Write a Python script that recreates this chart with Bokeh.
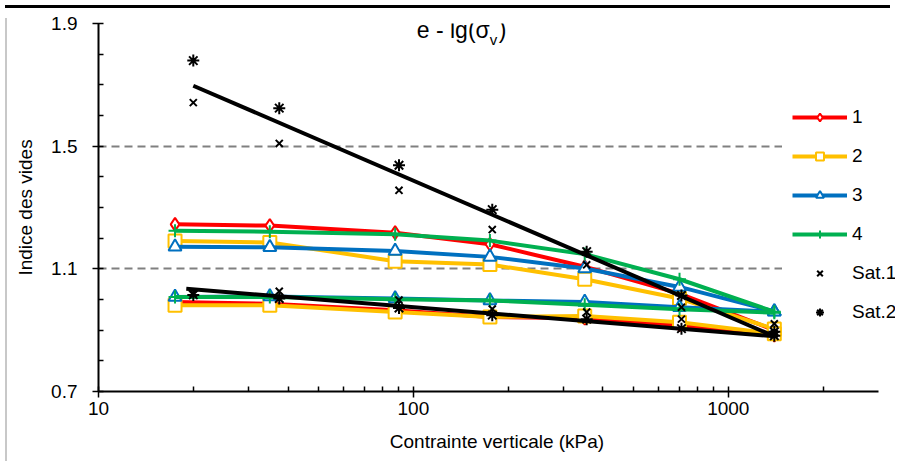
from bokeh.plotting import figure
from bokeh.models import Range1d, FixedTicker, PrintfTickFormatter, Legend, LegendItem, Label, Div
from bokeh.layouts import column, row
from bokeh.embed import file_html
from bokeh.resources import INLINE

# ---------------- data ----------------
sigma = [17.5, 35, 87.5, 175, 350, 700, 1400]
s1_upper = [1.245, 1.241, 1.218, 1.180, 1.107, 1.019, 0.900]
s2_upper = [1.191, 1.186, 1.125, 1.114, 1.066, 1.003, 0.904]
s3_upper = [1.172, 1.170, 1.158, 1.139, 1.101, 1.041, 0.961]
s4_upper = [1.224, 1.221, 1.213, 1.192, 1.148, 1.066, 0.960]
s1_lower = [0.992, 0.986, 0.965, 0.943, 0.939, 0.917, 0.884]
s2_lower = [0.981, 0.981, 0.959, 0.943, 0.946, 0.926, 0.888]
s3_lower = [1.008, 1.010, 1.003, 0.997, 0.992, 0.975, 0.960]
s4_lower = [1.008, 1.008, 1.001, 0.997, 0.983, 0.968, 0.957]

sigma_sat = [20, 37.5, 90, 178, 355, 710, 1400]
sat1_upper = [1.642, 1.509, 1.356, 1.228, 1.113, 0.975, 0.921]
sat2_upper = [1.779, 1.624, 1.438, 1.293, 1.156, 1.013, 0.895]
sat1_lower = [1.020, 1.027, 0.998, 0.969, 0.959, 0.936, 0.888]
sat2_lower = [1.015, 1.003, 0.972, 0.949, 0.936, 0.905, 0.882]

trend_up_x = [20, 1400]
trend_up_y = [1.697, 0.880]
trend_low_x = [19, 1400]
trend_low_y = [1.035, 0.880]

series_names = ["1", "2", "3", "4"]
series_colors = ["#FF0000", "#FFC000", "#0070C0", "#00B050"]
series_markers = ["diamond", "square", "triangle", "cross"]

x_ticks = [10, 100, 1000]
x_minor = [20, 30, 40, 50, 60, 70, 80, 90, 200, 300, 400, 500, 600, 700, 800, 900, 2000]
x_axis_end = 3000
y_ticks = [0.7, 1.1, 1.5, 1.9]
y_minor = [0.8, 0.9, 1.0, 1.2, 1.3, 1.4, 1.6, 1.7, 1.8]

FONT = "Liberation Sans"

# ---------------- figure ----------------
p = figure(width=883, height=443, x_axis_type="log",
           x_range=Range1d(10, 3396), y_range=Range1d(0.7, 1.9),
           output_backend="svg", toolbar_location=None,
           min_border_left=85, min_border_right=0, min_border_top=10, min_border_bottom=65)
p.outline_line_color = None
p.background_fill_color = "white"
p.border_fill_color = "white"
p.xgrid.visible = False
p.ygrid.grid_line_color = "#808080"
p.ygrid.grid_line_dash = "8 5"
p.ygrid.grid_line_width = 2

p.xaxis.ticker = FixedTicker(ticks=x_ticks, minor_ticks=x_minor)
p.xaxis.formatter = PrintfTickFormatter(format="%d")
p.xaxis.bounds = (10, x_axis_end)
p.yaxis.ticker = FixedTicker(ticks=y_ticks, minor_ticks=y_minor)
p.yaxis.formatter = PrintfTickFormatter(format="%.1f")

for ax in (p.xaxis[0], p.yaxis[0]):
    ax.axis_line_color = "black"
    ax.axis_line_width = 2
    ax.major_tick_line_color = "black"
    ax.major_tick_line_width = 1.5
    ax.minor_tick_line_color = "black"
    ax.minor_tick_line_width = 1.5
    ax.major_tick_in = 5
    ax.major_tick_out = 6
    ax.minor_tick_in = 5
    ax.minor_tick_out = 0
    ax.major_label_text_font = FONT
    ax.major_label_text_font_size = "19px"
    ax.major_label_text_color = "black"
    ax.axis_label_text_font = FONT
    ax.axis_label_text_font_size = "19px"
    ax.axis_label_text_font_style = "normal"
    ax.axis_label_text_color = "black"

p.xaxis.axis_label = "Contrainte verticale (kPa)"
p.yaxis.axis_label = "Indice des vides"
p.xaxis.major_label_standoff = 4
p.xaxis.axis_label_standoff = 13
p.yaxis.major_label_standoff = 15
p.yaxis.axis_label_standoff = 12

items = []
uppers = [s1_upper, s2_upper, s3_upper, s4_upper]
lowers = [s1_lower, s2_lower, s3_lower, s4_lower]
for name, col, mk, up, lo in zip(series_names, series_colors, series_markers, uppers, lowers):
    l1 = p.line(sigma, up, line_color=col, line_width=4)
    l2 = p.line(sigma, lo, line_color=col, line_width=4)
    m1 = p.scatter(sigma, up, marker=mk, size=13, line_color=col, line_width=2, fill_color="white")
    m2 = p.scatter(sigma, lo, marker=mk, size=13, line_color=col, line_width=2, fill_color="white")
    items.append(LegendItem(label=name, renderers=[l1, m1]))

t1 = p.line(trend_up_x, trend_up_y, line_color="black", line_width=4)
t2 = p.line(trend_low_x, trend_low_y, line_color="black", line_width=4)

a1 = p.scatter(sigma_sat, sat1_upper, marker="x", size=10, line_color="black", line_width=2)
p.scatter(sigma_sat, sat1_lower, marker="x", size=10, line_color="black", line_width=2)
a2 = p.scatter(sigma_sat, sat2_upper, marker="asterisk", size=12, line_color="black", line_width=2)
p.scatter(sigma_sat, sat2_lower, marker="asterisk", size=12, line_color="black", line_width=2)
items.append(LegendItem(label="Sat.1", renderers=[a1]))
items.append(LegendItem(label="Sat.2", renderers=[a2]))

legend = Legend(items=items, location=(684, 58), label_text_font=FONT,
                label_text_font_size="19px", label_text_color="black",
                glyph_width=55, glyph_height=20, label_standoff=5, spacing=17,
                padding=10, margin=0, background_fill_color="white",
                background_fill_alpha=1.0, border_line_alpha=0)
p.add_layout(legend, "center")

# title "e - lg(σv)"
lab_kw = dict(text_font=FONT, text_color="black", background_fill_color="white")
p.add_layout(Label(x=101, y=1.836, x_offset=2, text="e - lg(σ", text_font_size="23px", **lab_kw))
p.add_layout(Label(x=101, y=1.836, x_offset=75, y_offset=-5, text="v", text_font_size="15px", **lab_kw))
p.add_layout(Label(x=101, y=1.836, x_offset=84, text=")", text_font_size="23px", **lab_kw))

top_bar = Div(width=885, height=3, styles={"background-color": "black"})
left_bar = Div(width=2, height=443, styles={"background-color": "#c8c8c8"})
layout = column(top_bar, row(left_bar, p, spacing=0), spacing=0)

open("out.html", "w").write(file_html(layout, INLINE))
